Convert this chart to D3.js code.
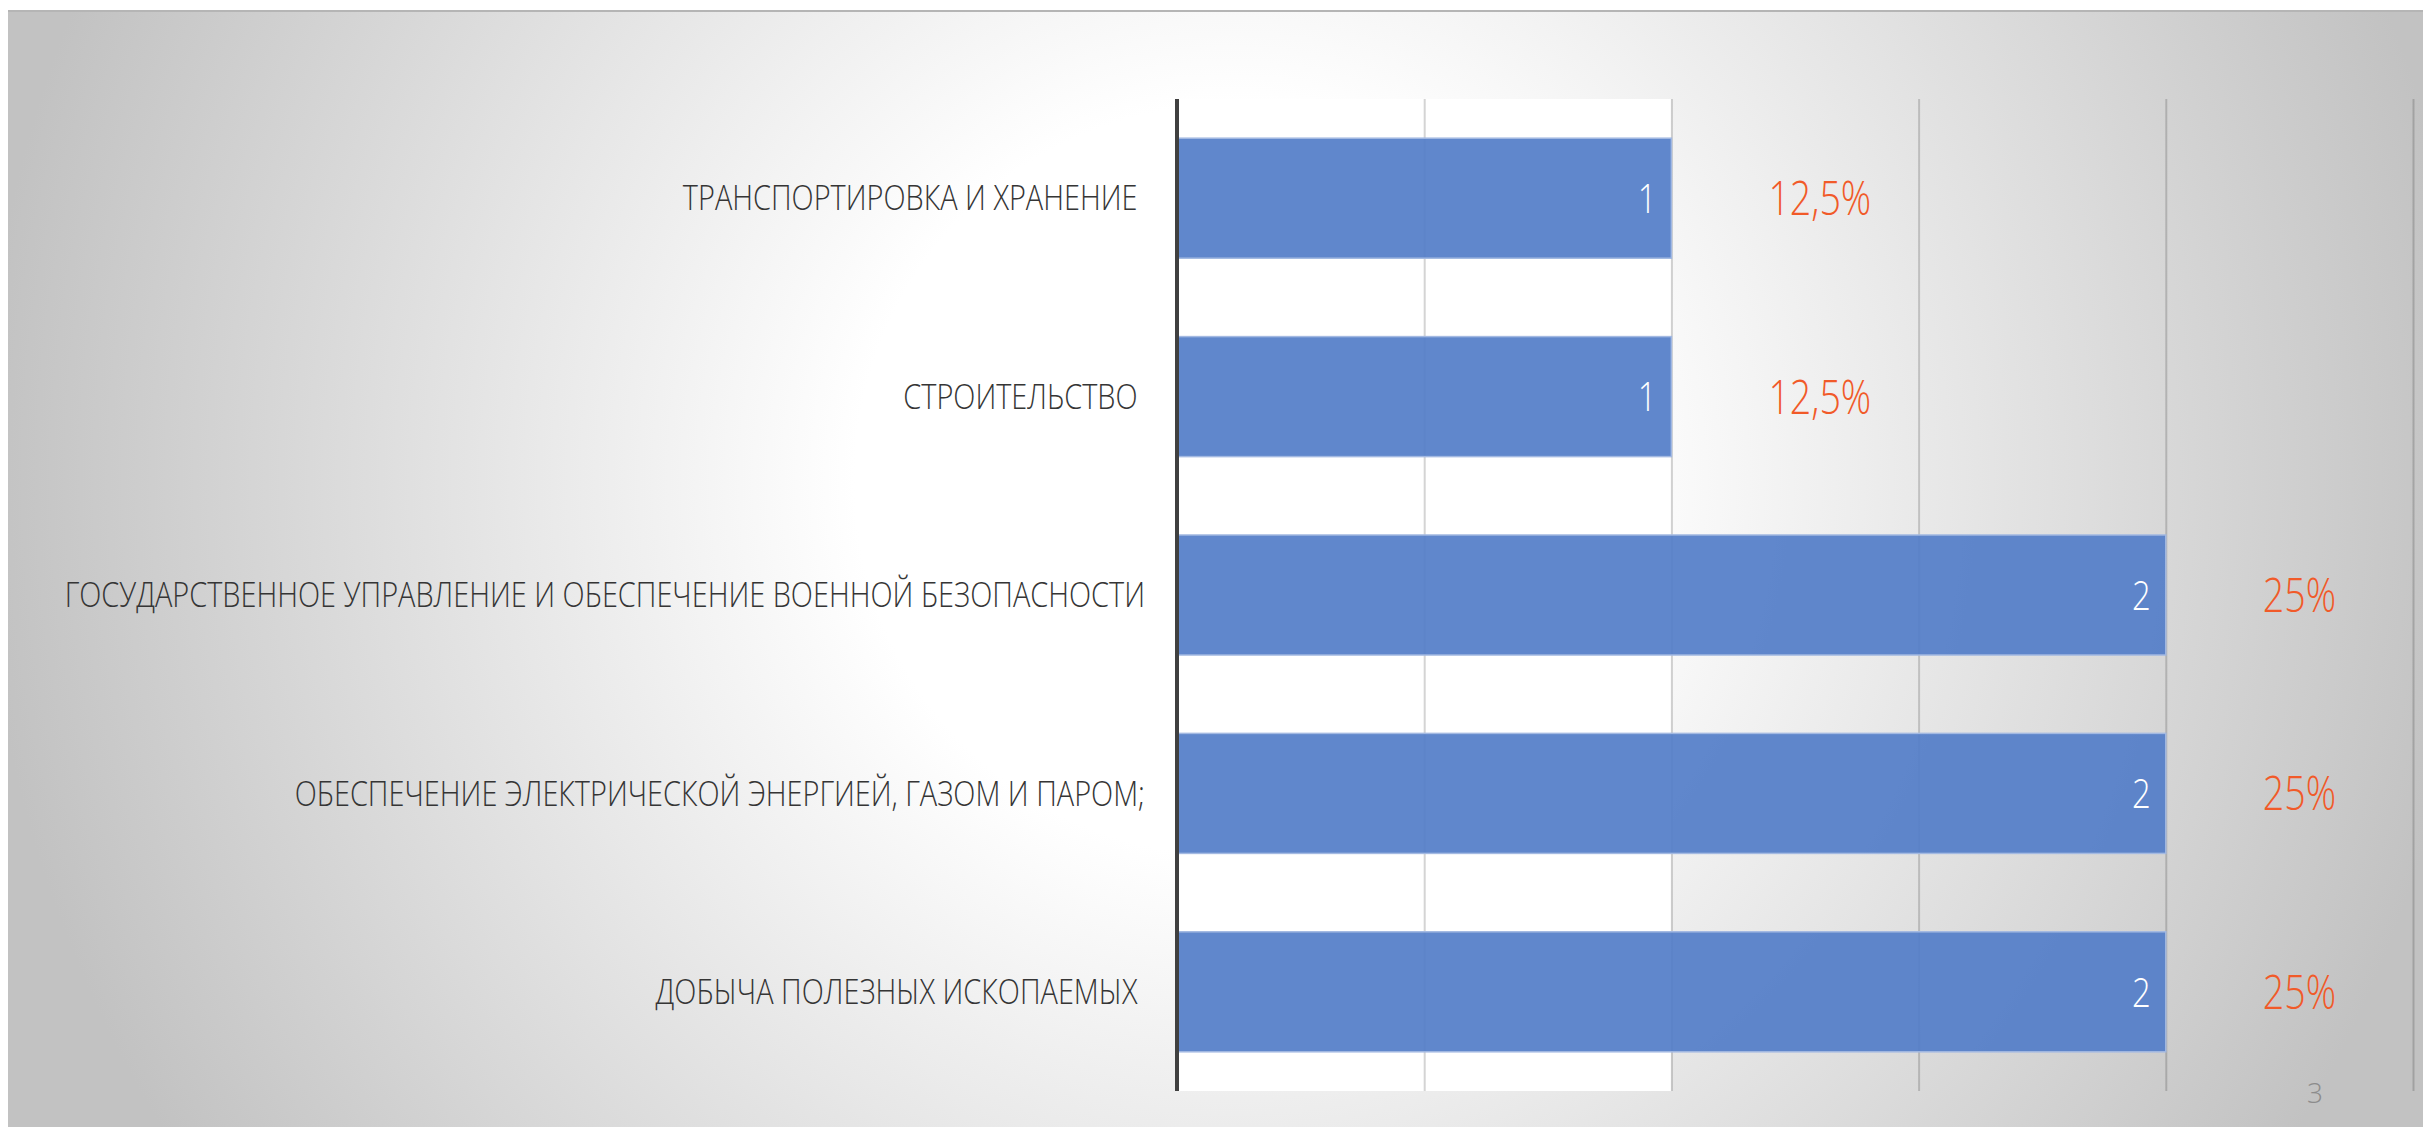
<!DOCTYPE html>
<html>
<head>
<meta charset="utf-8">
<script src="https://cdn.jsdelivr.net/npm/d3@7"></script>
<style>
  body { margin: 0; background: #fff; }
  svg text { font-family: "Open Sans", "Noto Sans", sans-serif; font-weight: 300; white-space: pre; }
</style>
</head>
<body>
<div id="chart"></div>
<script>
// Categories top to bottom
const categories = [
    "ТРАНСПОРТИРОВКА И ХРАНЕНИЕ ",
    "СТРОИТЕЛЬСТВО ",
    "ГОСУДАРСТВЕННОЕ УПРАВЛЕНИЕ И ОБЕСПЕЧЕНИЕ ВОЕННОЙ БЕЗОПАСНОСТИ",
    "ОБЕСПЕЧЕНИЕ ЭЛЕКТРИЧЕСКОЙ ЭНЕРГИЕЙ, ГАЗОМ И ПАРОМ;",
    "ДОБЫЧА ПОЛЕЗНЫХ ИСКОПАЕМЫХ "
];
const counts = [1, 1, 2, 2, 2];
const shares = ["12,5%", "12,5%", "25%", "25%", "25%"];
const gridTicks = [0, 0.5, 1, 1.5, 2, 2.5];
const pageNumber = "3";

const W = 2423, H = 1127;
const margin = { top: 99, right: 10, bottom: 36, left: 1177 };
// condensed look of the slide font
const squeezeCat = 0.85;
const squeezeNum = 0.8;
const squeezeShare = 0.8;

const svg = d3.select("#chart").append("svg")
    .attr("width", W)
    .attr("height", H);

// slide background: radial grey fade
const defs = svg.append("defs");
const grad = defs.append("radialGradient")
    .attr("id", "bg")
    .attr("gradientUnits", "userSpaceOnUse")
    .attr("cx", 1230).attr("cy", 480).attr("r", 1250);
grad.append("stop").attr("offset", 0).attr("stop-color", "#ffffff");
grad.append("stop").attr("offset", 0.3).attr("stop-color", "#ffffff");
grad.append("stop").attr("offset", 1).attr("stop-color", "#c2c2c2");

svg.append("rect").attr("x", 8).attr("y", 10).attr("width", W - 8).attr("height", H - 10)
    .attr("fill", "url(#bg)");
svg.append("line").attr("x1", 8).attr("x2", W).attr("y1", 11).attr("y2", 11)
    .attr("stroke", "#b5b5b5").attr("stroke-width", 2);

// scales
const x = d3.scaleLinear()
    .domain([0, 2.5])
    .range([margin.left, W - margin.right]);

const y = d3.scaleBand()
    .domain(categories)
    .range([margin.top, H - margin.bottom])
    .paddingInner(0.395)
    .paddingOuter(0.1975);

// white panel behind first unit
svg.append("rect")
    .attr("x", x(0)).attr("y", margin.top)
    .attr("width", x(1) - x(0)).attr("height", H - margin.bottom - margin.top)
    .attr("fill", "#ffffff");

// vertical gridlines
const grid = svg.append("g")
    .attr("transform", `translate(0, ${H - margin.bottom})`)
    .call(d3.axisBottom(x).tickValues(gridTicks).tickSize(-(H - margin.bottom - margin.top)).tickFormat(""));
grid.select(".domain").remove();
grid.selectAll(".tick line")
    .attr("stroke", "#000")
    .attr("stroke-opacity", 0.17)
    .attr("stroke-width", 2);

// bars
svg.selectAll(".bar")
    .data(categories)
    .enter()
    .append("rect")
    .attr("class", "bar")
    .attr("x", x(0))
    .attr("y", d => y(d))
    .attr("width", (d, i) => x(counts[i]) - x(0))
    .attr("height", y.bandwidth())
    .attr("fill", "rgb(84,126,200)")
    .attr("fill-opacity", 0.93)
    .attr("stroke", "#a3b9e2")
    .attr("stroke-width", 1.5);

// axis line
svg.append("line")
    .attr("x1", x(0)).attr("x2", x(0))
    .attr("y1", margin.top).attr("y2", H - margin.bottom)
    .attr("stroke", "#404040")
    .attr("stroke-width", 4);

// category labels
svg.selectAll(".cat")
    .data(categories)
    .enter()
    .append("text")
    .attr("class", "cat")
    .attr("transform", d => `translate(${x(0) - 32}, ${y(d) + y.bandwidth() / 2}) scale(${squeezeCat},1)`)
    .attr("dy", "0.36em")
    .attr("text-anchor", "end")
    .attr("font-size", 34)
    .attr("fill", "#353535")
    .text(d => d);

// value labels inside bars
svg.selectAll(".val")
    .data(categories)
    .enter()
    .append("text")
    .attr("class", "val")
    .attr("transform", (d, i) => `translate(${x(counts[i]) - 15}, ${y(d) + y.bandwidth() / 2}) scale(${squeezeNum},1)`)
    .attr("dy", "0.36em")
    .attr("text-anchor", "end")
    .attr("font-size", 41)
    .attr("font-weight", 400)
    .attr("fill", "#ffffff")
    .text((d, i) => counts[i]);

// share labels
svg.selectAll(".share")
    .data(categories)
    .enter()
    .append("text")
    .attr("class", "share")
    .attr("transform", (d, i) => `translate(${x(counts[i]) + 97}, ${y(d) + y.bandwidth() / 2}) scale(${squeezeShare},1)`)
    .attr("dy", "0.36em")
    .attr("text-anchor", "start")
    .attr("font-size", 47)
    .attr("fill", "#f15a29")
    .text((d, i) => shares[i]);

// page number
svg.append("text")
    .attr("x", 2315).attr("y", 1103)
    .attr("text-anchor", "middle")
    .attr("font-size", 28)
    .attr("font-weight", 400)
    .attr("fill", "#8c8c8c")
    .text(pageNumber);
</script>
</body>
</html>
